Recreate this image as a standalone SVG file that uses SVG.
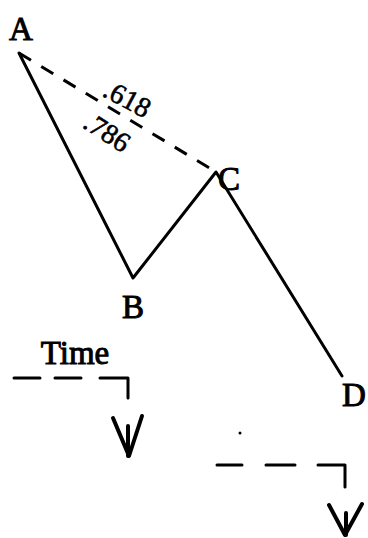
<svg xmlns="http://www.w3.org/2000/svg" width="368" height="538" viewBox="0 0 368 538">
<style>
.ln{stroke:#000;stroke-width:3;fill:none;stroke-linecap:round;stroke-linejoin:round}
.ar{stroke:#000;stroke-width:4;fill:none;stroke-linecap:round;stroke-linejoin:round}
.ds{stroke:#000;stroke-width:3;fill:none;stroke-dasharray:14 12}
.lbl{font-family:"Liberation Serif",serif;font-size:33px;fill:#000;stroke:#000;stroke-width:1}
.num{font-family:"Liberation Serif",serif;font-size:28px;fill:#000;stroke:#000;stroke-width:0.6}
</style>
<rect width="368" height="538" fill="#fff"/>
<g id="connectors">
<path class="ln" d="M19,53 L133,278 L216,172 L342,376"/>
<path class="ds" d="M19,53 L216,172"/>
<path class="ln" d="M14,378 H40 M55,378 H81 M100,378 H128 V398"/>
<path class="ar" d="M113,418 L129,456 L142,416 M128,426 V456"/>
<path class="ln" d="M217,465 H242 M266,465 H295 M318,465 H345 V487"/>
<path class="ar" d="M329,505 L345,535 L362,504 M346,513 V535"/>
<circle cx="240" cy="433" r="1.5" fill="#000"/>
</g>
<g id="A"><text class="lbl" x="21" y="40" text-anchor="middle">A</text></g>
<g id="B"><text class="lbl" x="133" y="318" text-anchor="middle">B</text></g>
<g id="C"><text class="lbl" x="229" y="190" text-anchor="middle">C</text></g>
<g id="D"><text class="lbl" x="354" y="406" text-anchor="middle">D</text></g>
<g id="r618"><text class="num" transform="translate(123,107) rotate(28)" text-anchor="middle">.618</text></g>
<g id="r786"><text class="num" transform="translate(102,140) rotate(33)" text-anchor="middle">.786</text></g>
<g id="time"><text class="lbl" x="75" y="364" text-anchor="middle" font-size="31">Time</text></g>
</svg>
